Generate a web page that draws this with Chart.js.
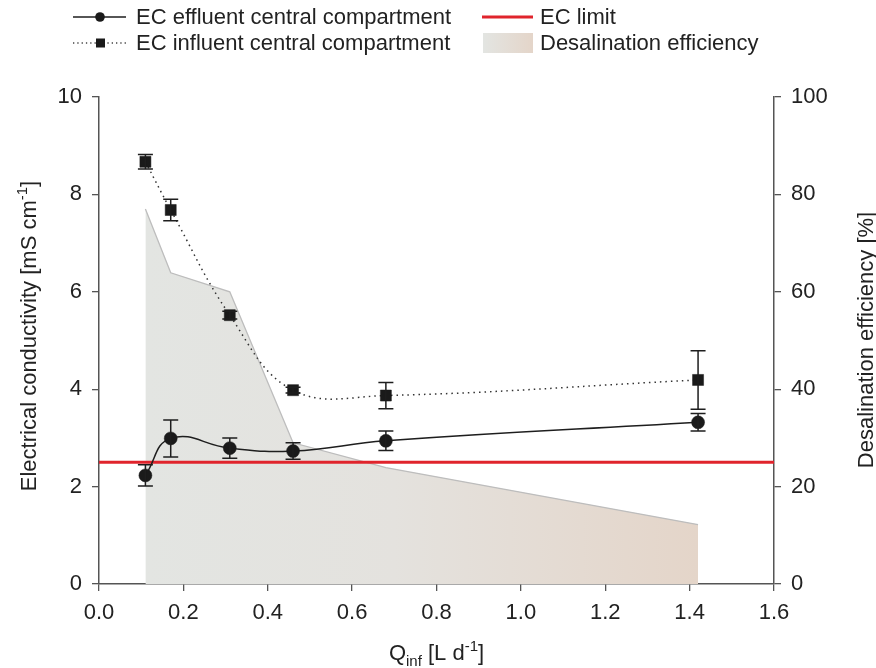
<!DOCTYPE html>
<html>
<head>
<meta charset="utf-8">
<script src="https://cdn.jsdelivr.net/npm/chart.js@4"></script>
<style>
  html, body { margin: 0; padding: 0; background: #fff; }
  #wrap { width: 876px; height: 668px; }
</style>
</head>
<body>
<div id="wrap"><canvas id="ecChart" width="876" height="668"></canvas></div>
<script>
// flow rates [L/d] and measurements
const qInf = [0.11, 0.17, 0.31, 0.46, 0.68, 1.42];
const ecEffluent = [2.23, 2.99, 2.79, 2.73, 2.94, 3.32];
const ecEffluentErr = [0.22, 0.38, 0.21, 0.17, 0.20, 0.18];
const ecInfluent = [8.67, 7.68, 5.52, 3.98, 3.87, 4.19];
const ecInfluentErr = [0.15, 0.22, 0.08, 0.06, 0.27, 0.60];
const desalEfficiency = [77.0, 63.9, 60.0, 29.0, 23.9, 12.2]; // %
const ecLimit = 2.5;
const xTicks = [0, 1.6, 0.2];   // min, max, step
const ecTicks = [0, 10, 2];
const effTicks = [0, 100, 20];

const FONT = '"Liberation Sans", Arial, sans-serif';
const TXT = '#222';
const AXIS = '#555';

function pts(xs, ys) {
  return xs.map((x, i) => ({ x: x, y: ys[i] }));
}

// horizontal gradient for the efficiency area
function effFill(context) {
  const chart = context.chart;
  if (!chart.chartArea) return '#e4e5e2';
  const xs = chart.scales.x;
  const g = chart.ctx.createLinearGradient(xs.getPixelForValue(qInf[0]), 0, xs.getPixelForValue(qInf[qInf.length - 1]), 0);
  g.addColorStop(0, '#e3e5e2');
  g.addColorStop(0.45, '#e4e2de');
  g.addColorStop(1, '#e4d5c9');
  return g;
}

// vertical error bars with caps
const errorBars = {
  id: 'errorBars',
  afterDatasetsDraw(chart) {
    const ctx = chart.ctx;
    const xs = chart.scales.x, ys = chart.scales.y;
    const sets = [[ecEffluent, ecEffluentErr], [ecInfluent, ecInfluentErr]];
    ctx.save();
    ctx.strokeStyle = '#1e1e1e';
    ctx.lineWidth = 1.5;
    sets.forEach(([vals, errs]) => {
      vals.forEach((v, i) => {
        const px = xs.getPixelForValue(qInf[i]);
        const top = ys.getPixelForValue(v + errs[i]);
        const bot = ys.getPixelForValue(v - errs[i]);
        ctx.beginPath();
        ctx.moveTo(px, top); ctx.lineTo(px, bot);
        ctx.moveTo(px - 7.5, top); ctx.lineTo(px + 7.5, top);
        ctx.moveTo(px - 7.5, bot); ctx.lineTo(px + 7.5, bot);
        ctx.stroke();
      });
    });
    ctx.restore();
  }
};

// text in pieces, some raised or lowered
function richText(ctx, parts, x, y, align) {
  let total = 0;
  parts.forEach(p => {
    ctx.font = (p.small ? 15 : 22) + 'px ' + FONT;
    p.w = ctx.measureText(p.t).width;
    total += p.w;
  });
  let cx = align === 'center' ? x - total / 2 : x;
  parts.forEach(p => {
    ctx.font = (p.small ? 15 : 22) + 'px ' + FONT;
    ctx.fillText(p.t, cx, y + (p.dy || 0));
    cx += p.w;
  });
}

const titlesAndLegend = {
  id: 'titlesAndLegend',
  afterDraw(chart) {
    const ctx = chart.ctx;
    const a = chart.chartArea;
    ctx.save();
    ctx.fillStyle = TXT;
    ctx.textBaseline = 'alphabetic';
    ctx.textAlign = 'left';

    // x title
    richText(ctx, [
      { t: 'Q' }, { t: 'inf', small: true, dy: 6 }, { t: ' [L d' },
      { t: '-1', small: true, dy: -9 }, { t: ']' }
    ], (a.left + a.right) / 2, 660, 'center');

    // left title
    ctx.save();
    ctx.translate(36, 336);
    ctx.rotate(-Math.PI / 2);
    richText(ctx, [
      { t: 'Electrical conductivity [mS cm' }, { t: '-1', small: true, dy: -9 }, { t: ']' }
    ], 0, 0, 'center');
    ctx.restore();

    // right title
    ctx.save();
    ctx.translate(873, 340);
    ctx.rotate(-Math.PI / 2);
    richText(ctx, [{ t: 'Desalination efficiency [%]' }], 0, 0, 'center');
    ctx.restore();

    // legend
    const row1 = 17, row2 = 43;
    ctx.strokeStyle = '#1e1e1e';
    ctx.lineWidth = 1.5;
    ctx.beginPath(); ctx.moveTo(73, row1); ctx.lineTo(126, row1); ctx.stroke();
    ctx.fillStyle = '#1a1a1a';
    ctx.beginPath(); ctx.arc(100, row1, 4.8, 0, Math.PI * 2); ctx.fill();

    ctx.setLineDash([1.3, 3]);
    ctx.lineWidth = 1.3;
    ctx.strokeStyle = '#444';
    ctx.beginPath(); ctx.moveTo(73, row2); ctx.lineTo(126, row2); ctx.stroke();
    ctx.setLineDash([]);
    ctx.fillRect(96, row2 - 4.5, 9, 9);

    ctx.strokeStyle = '#e0242c';
    ctx.lineWidth = 3;
    ctx.beginPath(); ctx.moveTo(482, row1); ctx.lineTo(533, row1); ctx.stroke();

    const g = ctx.createLinearGradient(483, 0, 533, 0);
    g.addColorStop(0, '#e3e5e2');
    g.addColorStop(1, '#e4d5c9');
    ctx.fillStyle = g;
    ctx.fillRect(483, row2 - 10, 50, 20);

    ctx.fillStyle = TXT;
    ctx.font = '22px ' + FONT;
    ctx.textBaseline = 'middle';
    ctx.fillText('EC effluent central compartment', 136, row1 + 1);
    ctx.fillText('EC influent central compartment', 136, row2 + 1);
    ctx.fillText('EC limit', 540, row1 + 1);
    ctx.fillText('Desalination efficiency', 540, row2 + 1);
    ctx.restore();
  }
};

const tickFont = { family: FONT, size: 22 };
const axisGrid = { drawOnChartArea: false, drawTicks: true, tickLength: 7, color: AXIS, lineWidth: 1.3 };
const axisBorder = { display: true, color: AXIS, width: 1.5 };

new Chart(document.getElementById('ecChart'), {
  type: 'line',
  data: {
    datasets: [
      {
        label: 'EC effluent central compartment',
        data: pts(qInf, ecEffluent),
        yAxisID: 'y',
        borderColor: '#1e1e1e',
        borderWidth: 1.5,
        backgroundColor: '#1a1a1a',
        pointStyle: 'circle',
        pointRadius: 6.5,
        pointBorderWidth: 0.5,
        tension: 0.45,
        fill: false,
        order: 0
      },
      {
        label: 'EC influent central compartment',
        data: pts(qInf, ecInfluent),
        yAxisID: 'y',
        borderColor: '#333',
        borderWidth: 1.5,
        borderDash: [1.5, 4],
        backgroundColor: '#1a1a1a',
        pointBorderColor: '#1a1a1a',
        pointStyle: 'rect',
        pointRadius: 7.8,
        pointBorderWidth: 0.5,
        tension: 0.4,
        fill: false,
        order: 1
      },
      {
        label: 'EC limit',
        data: [{ x: xTicks[0], y: ecLimit }, { x: xTicks[1], y: ecLimit }],
        yAxisID: 'y',
        borderColor: '#e0242c',
        borderWidth: 3,
        pointRadius: 0,
        fill: false,
        order: 2
      },
      {
        label: 'Desalination efficiency',
        data: pts(qInf, desalEfficiency),
        yAxisID: 'y2',
        borderColor: '#bdbdbd',
        borderWidth: 1.3,
        backgroundColor: effFill,
        pointRadius: 0,
        tension: 0,
        fill: 'origin',
        order: 3
      }
    ]
  },
  options: {
    responsive: false,
    animation: false,
    layout: { padding: { top: 97, left: 0, right: 0, bottom: 0 } },
    plugins: {
      legend: { display: false },
      tooltip: { enabled: false },
      title: { display: false }
    },
    scales: {
      x: {
        type: 'linear',
        min: xTicks[0], max: xTicks[1],
        ticks: {
          stepSize: xTicks[2], font: tickFont, color: TXT, padding: 9,
          maxRotation: 0, callback: v => v.toFixed(1)
        },
        grid: axisGrid,
        border: axisBorder,
        afterFit: s => { s.height = 84; }
      },
      y: {
        position: 'left',
        min: ecTicks[0], max: ecTicks[1],
        ticks: { stepSize: ecTicks[2], font: tickFont, color: TXT, padding: 10 },
        grid: axisGrid,
        border: axisBorder,
        afterFit: s => { s.width = 99; }
      },
      y2: {
        position: 'right',
        min: effTicks[0], max: effTicks[1],
        ticks: { stepSize: effTicks[2], font: tickFont, color: TXT, padding: 10 },
        grid: axisGrid,
        border: axisBorder,
        afterFit: s => { s.width = 102; }
      }
    }
  },
  plugins: [errorBars, titlesAndLegend]
});
</script>
</body>
</html>
